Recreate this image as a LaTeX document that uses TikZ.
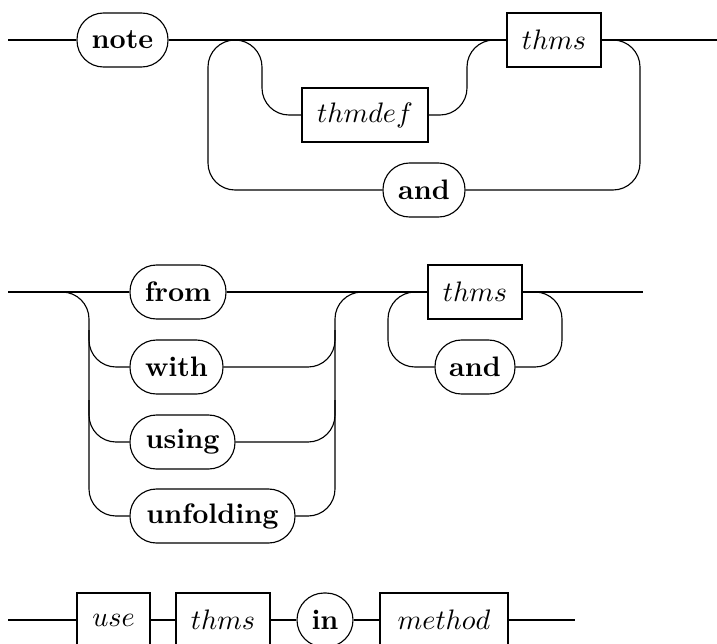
\documentclass[tikz,border=0pt]{standalone}
\begin{document}
\begin{tikzpicture}[x=0.355pt,y=-0.355pt,
  term/.style={draw,inner sep=0pt,minimum height={54*0.355pt},rounded corners={26.5*0.355pt},font=\bfseries},
  nonterm/.style={draw,inner sep=0pt,minimum height={54*0.355pt}},
  rail/.style={rounded corners={27*0.355pt}}]
\useasboundingbox (0,0) rectangle (717,643);
% ---------- diagram 1 ----------
\node[term,minimum width={91*0.355pt}] (note) at (122.5,40) {note};
\node[nonterm,minimum width={126*0.355pt}] (thmdef) at (365,115) {$thmdef$};
\node[nonterm,minimum width={94*0.355pt}] (thmsA) at (554,40) {$thms$};
\node[term,minimum width={82*0.355pt}] (andA) at (424,190) {and};
\coordinate (s1) at (8,40);
\coordinate (e1) at (717,40);
\draw (s1) -- (note.west);
\draw (note.east) -- (thmsA.west);
\draw (thmsA.east) -- (e1);
\draw[rail] (thmsA.east) -- (640,40) -- (640,190) -- (andA.east);
\draw[rail] (andA.west) -- (208,190) -- (208,40) -- (262,40) -- (262,115) -- (thmdef.west);
\draw[rail] (thmdef.east) -- (467,115) -- (467,40) -- (thmsA.west);
% ---------- diagram 2 ----------
\node[term,minimum width={96*0.355pt}] (from) at (178,292) {from};
\node[term,minimum width={93*0.355pt}] (with) at (176.5,367) {with};
\node[term,minimum width={105*0.355pt}] (using) at (182.5,442) {using};
\node[term,minimum width={165*0.355pt}] (unfolding) at (212.5,516) {unfolding};
\node[nonterm,minimum width={94*0.355pt}] (thmsB) at (475,292) {$thms$};
\node[term,minimum width={80*0.355pt}] (andB) at (475,367) {and};
\coordinate (s2) at (8,292);
\coordinate (e2) at (643,292);
\draw (s2) -- (from.west);
\draw (from.east) -- (thmsB.west);
\draw (thmsB.east) -- (e2);
\draw[rail] (62,292) -- (89,292) -- (89,516) -- (unfolding.west);
\draw[rail] (89,330) -- (89,367) -- (with.west);
\draw[rail] (89,400) -- (89,442) -- (using.west);
\draw[rail] (unfolding.east) -- (335,516) -- (335,292) -- (362,292);
\draw[rail] (with.east) -- (335,367) -- (335,330);
\draw[rail] (using.east) -- (335,442) -- (335,400);
\draw[rail] (thmsB.east) -- (562,292) -- (562,367) -- (andB.east);
\draw[rail] (andB.west) -- (388,367) -- (388,292) -- (thmsB.west);
% ---------- diagram 3 ----------
\node[nonterm,minimum width={73*0.355pt}] (use) at (113.5,620) {$use$};
\node[nonterm,minimum width={94*0.355pt}] (thmsC) at (223,620) {$thms$};
\node[term,minimum width={56*0.355pt},rounded corners={27*0.355pt}] (in) at (325,620) {in};
\node[nonterm,minimum width={128*0.355pt}] (method) at (444,620) {$method$};
\coordinate (s3) at (8,620);
\coordinate (e3) at (575,620);
\draw (s3) -- (use.west);
\draw (use.east) -- (thmsC.west);
\draw (thmsC.east) -- (in.west);
\draw (in.east) -- (method.west);
\draw (method.east) -- (e3);
\end{tikzpicture}
\end{document}
